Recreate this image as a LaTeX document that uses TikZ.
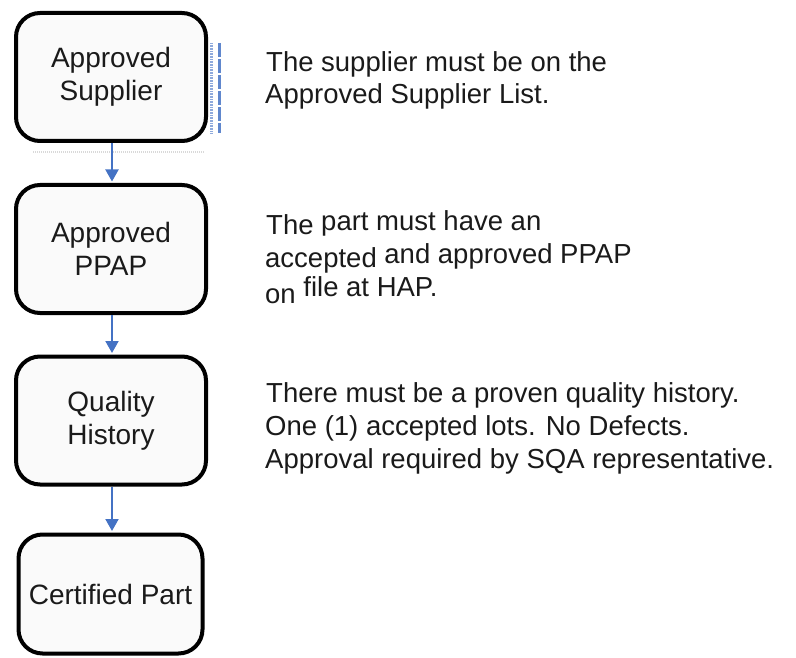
\documentclass[tikz,border=0pt]{standalone}
\usepackage{fontspec}
\setmainfont{Liberation Sans}
\usetikzlibrary{arrows.meta}
\definecolor{arrowblue}{HTML}{4472C4}
\definecolor{txt}{HTML}{1A1A1A}
\definecolor{boxfill}{HTML}{FAFAFA}
\begin{document}
\begin{tikzpicture}[x=1pt,y=-1pt,
  stepbox/.style={draw=black, line width=4pt, rounded corners=24pt, fill=boxfill,
    minimum width=190pt, minimum height=128pt, align=center,
    font=\fontsize{28}{33}\selectfont, text=txt, inner sep=0pt},
  flow/.style={draw=arrowblue, line width=2pt, shorten >=1.5pt,
    -{Triangle[length=12pt,width=13pt]}},
  desc/.style={anchor=base west, font=\fontsize{27.5}{33}\selectfont, text=txt, inner sep=0pt}]
\useasboundingbox (0,0) rectangle (796,658);

% faint selection marks beside the first box
\draw[arrowblue!60, line width=3pt, dash pattern=on 0.8pt off 0.8pt] (211,43) -- (211,133);
\draw[arrowblue!85, line width=3pt, dash pattern=on 14pt off 2pt] (219,43) -- (219,133);
\draw[gray!30, line width=2pt, dash pattern=on 1pt off 1pt] (33,152) -- (205,152);

% boxes
\node[stepbox] (s1) at (111,77) {Approved\\Supplier};
\node[stepbox] (s2) at (111,249) {Approved\\PPAP};
\node[stepbox] (s3) at (111,420.5) {Quality\\History};
\node[stepbox, minimum width=184pt, minimum height=119pt] (s4) at (110.5,594) {Certified Part};

% connectors
\draw[flow] (s1.south -| 112,0) -- (s2.north -| 112,0);
\draw[flow] (s2.south -| 112,0) -- (s3.north -| 112,0);
\draw[flow] (s3.south -| 112,0) -- (s4.north -| 112,0);

% descriptions
\node[desc] (d1a) at (266,72) {The supplier must be on the};
\node[desc] (d1b) at (265,104) {Approved Supplier List.};

\node[desc] (d2a) at (266,234) {The \raisebox{4pt}{part must have an}};
\node[desc] (d2b) at (265,268) {accepted \raisebox{5pt}{and approved PPAP}};
\node[desc] (d2c) at (265,303) {on \raisebox{7pt}{file at HAP.}};

\node[desc] (d3a) at (266,402) {There must be a proven quality history.};
\node[desc] (d3b) at (265,435) {One (1) accepted lots. No Defects.};
\node[desc] (d3c) at (265,468) {Approval required by SQA representative.};
\end{tikzpicture}
\end{document}
